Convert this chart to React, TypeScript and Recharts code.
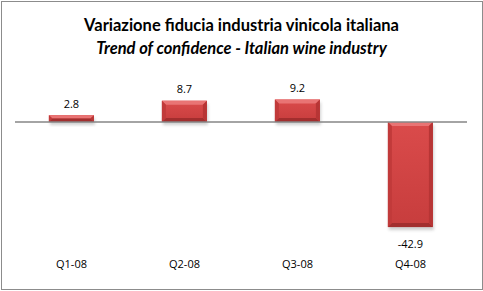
import React from 'react';
import { BarChart, Bar, XAxis, YAxis, ReferenceLine, LabelList } from 'recharts';

const quarters = ['Q1-08', 'Q2-08', 'Q3-08', 'Q4-08'];
const confidence = [2.8, 8.7, 9.2, -42.9];

const data = quarters.map((q, i) => ({ q, v: confidence[i] }));

const BevelBar = (props: any) => {
  const { x, y, width, height } = props;
  const top = Math.min(y, y + height);
  const h = Math.abs(height);
  const b = Math.min(4, h / 2);
  const r = x + width;
  const bot = top + h;
  return (
    <g>
      <rect x={x + 1} y={top + 3} width={width} height={h} fill="#777" opacity={0.35} filter="url(#barShadow)" />
      <rect x={x} y={top} width={width} height={h} fill="url(#barFill)" />
      <polygon points={`${x},${top} ${r},${top} ${r - b},${top + b} ${x + b},${top + b}`} fill="#E97474" />
      <polygon points={`${x},${bot} ${r},${bot} ${r - b},${bot - b} ${x + b},${bot - b}`} fill="#A22E2E" />
      <polygon points={`${x},${top} ${x + b},${top + b} ${x + b},${bot - b} ${x},${bot}`} fill="#C13A3A" />
      <polygon points={`${r},${top} ${r - b},${top + b} ${r - b},${bot - b} ${r},${bot}`} fill="#B73535" />
    </g>
  );
};

const ValueLabel = (props: any) => {
  const { x, y, width, height, value } = props;
  const top = Math.min(y, y + height);
  const bot = Math.max(y, y + height);
  const cy = value >= 0 ? top - 12 : bot + 16;
  return (
    <text x={x + width / 2} y={cy} textAnchor="middle" dominantBaseline="central"
      fontFamily="'Open Sans', sans-serif" fontSize={11} fill="#000">
      {value}
    </text>
  );
};

export default function App() {
  return (
    <div style={{ position: 'relative', width: 483, height: 291, background: '#fff', fontFamily: "'Open Sans', sans-serif" }}>
      <style>{'body{margin:0}'}</style>
      <div style={{ position: 'absolute', left: 1, top: 1, width: 480, height: 287, border: '1px solid #8C8C8C' }} />
      <div style={{ position: 'absolute', left: 0, top: 14, width: 483, textAlign: 'center', fontFamily: 'Lato, sans-serif', fontSize: 16.5, fontWeight: 700, lineHeight: '23px', color: '#000' }}>
        <div>Variazione fiducia industria vinicola italiana</div>
        <div style={{ fontStyle: 'italic' }}>Trend of confidence - Italian wine industry</div>
      </div>
      <div style={{ position: 'absolute', left: 0, top: 0 }}>
        <BarChart width={483} height={291} data={data}
          margin={{ top: 97.5, right: 16, bottom: 16.5, left: 15 }} barCategoryGap="30%">
          <defs>
            <linearGradient id="barFill" x1="0" y1="0" x2="0" y2="1">
              <stop offset="0%" stopColor="#DA4B4B" />
              <stop offset="100%" stopColor="#C73D3D" />
            </linearGradient>
            <filter id="barShadow" x="-20%" y="-20%" width="140%" height="140%">
              <feGaussianBlur stdDeviation="1.5" />
            </filter>
          </defs>
          <XAxis dataKey="q" axisLine={false} tickLine={false} height={30} tickMargin={10}
            tick={{ fill: '#000', fontSize: 11, fontFamily: "'Open Sans', sans-serif" }} />
          <YAxis hide domain={[-50, 10]} />
          <ReferenceLine y={0} stroke="#868686" strokeWidth={1.5} />
          <Bar dataKey="v" shape={<BevelBar />} isAnimationActive={false}>
            <LabelList dataKey="v" content={<ValueLabel />} />
          </Bar>
        </BarChart>
      </div>
    </div>
  );
}
